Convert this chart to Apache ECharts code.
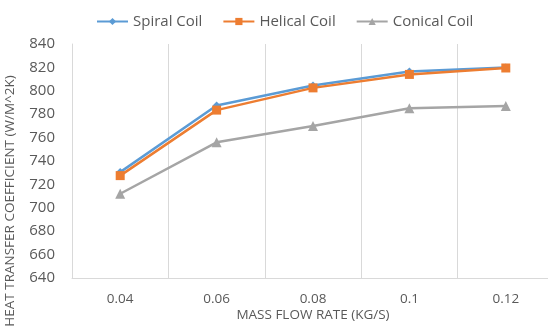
<!DOCTYPE html>
<html>
<head>
<meta charset="utf-8">
<script src="https://cdn.jsdelivr.net/npm/echarts@6/dist/echarts.min.js"></script>
<style>
  html, body { margin: 0; padding: 0; background: #fff; }
  #main { width: 548px; height: 329px; }
</style>
</head>
<body>
<div id="main"></div>
<script>
// mass flow rate categories
let flowRates = ['0.04', '0.06', '0.08', '0.1', '0.12'];
let spiralCoil = [730.5, 787.5, 804.5, 816.5, 820];
let helicalCoil = [727.5, 783.5, 802.5, 814, 819.5];
let conicalCoil = [712, 756, 770, 785, 787];

let txtColor = '#595959';
let fontName = '"Open Sans", "Noto Sans", sans-serif';

let option = {
  animation: false,
  backgroundColor: '#fff',
  textStyle: { fontFamily: fontName },
  legend: {
    top: 9,
    left: 91,
    itemWidth: 31,
    itemHeight: 9,
    itemGap: 20,
    textStyle: { color: txtColor, fontSize: 15, fontFamily: fontName },
    data: ['Spiral Coil', 'Helical Coil', 'Conical Coil']
  },
  grid: {
    left: 72,
    top: 44,
    right: -6,
    bottom: 51,
    containLabel: false,
    outerBoundsMode: 'none'
  },
  xAxis: {
    type: 'category',
    data: flowRates,
    boundaryGap: true,
    name: 'MASS FLOW RATE (KG/S)',
    nameLocation: 'middle',
    nameGap: 30,
    nameMoveOverlap: false,
    nameTextStyle: { color: txtColor, fontSize: 13.5 },
    axisLine: { lineStyle: { color: '#d9d9d9', width: 1 } },
    axisTick: { show: false },
    axisLabel: { color: txtColor, fontSize: 13.5, margin: 14 },
    splitLine: { show: true, lineStyle: { color: '#d9d9d9', width: 1 } }
  },
  yAxis: {
    type: 'value',
    min: 640,
    max: 840,
    interval: 20,
    name: 'HEAT TRANSFER COEFFICIENT (W/M^2K)',
    nameLocation: 'middle',
    nameGap: 55,
    nameMoveOverlap: false,
    nameTextStyle: { color: txtColor, fontSize: 13.5, padding: [0, 80, 0, 0] },
    axisLine: { show: true, lineStyle: { color: '#d9d9d9', width: 1 } },
    axisTick: { show: false },
    axisLabel: { color: txtColor, fontSize: 15, margin: 17 },
    splitLine: { show: false }
  },
  series: [
    {
      name: 'Spiral Coil',
      type: 'line',
      data: spiralCoil,
      symbol: 'diamond',
      symbolSize: 8,
      lineStyle: { color: '#5B9BD5', width: 2.5 },
      itemStyle: { color: '#5B9BD5' }
    },
    {
      name: 'Helical Coil',
      type: 'line',
      data: helicalCoil,
      symbol: 'rect',
      symbolSize: 9,
      lineStyle: { color: '#ED7D31', width: 2.5 },
      itemStyle: { color: '#ED7D31' }
    },
    {
      name: 'Conical Coil',
      type: 'line',
      data: conicalCoil,
      symbol: 'triangle',
      symbolSize: 10,
      lineStyle: { color: '#A5A5A5', width: 2.5 },
      itemStyle: { color: '#A5A5A5' }
    }
  ]
};

const chartObj = echarts.init(document.getElementById('main'));
chartObj.setOption(option, true);
</script>
</body>
</html>
